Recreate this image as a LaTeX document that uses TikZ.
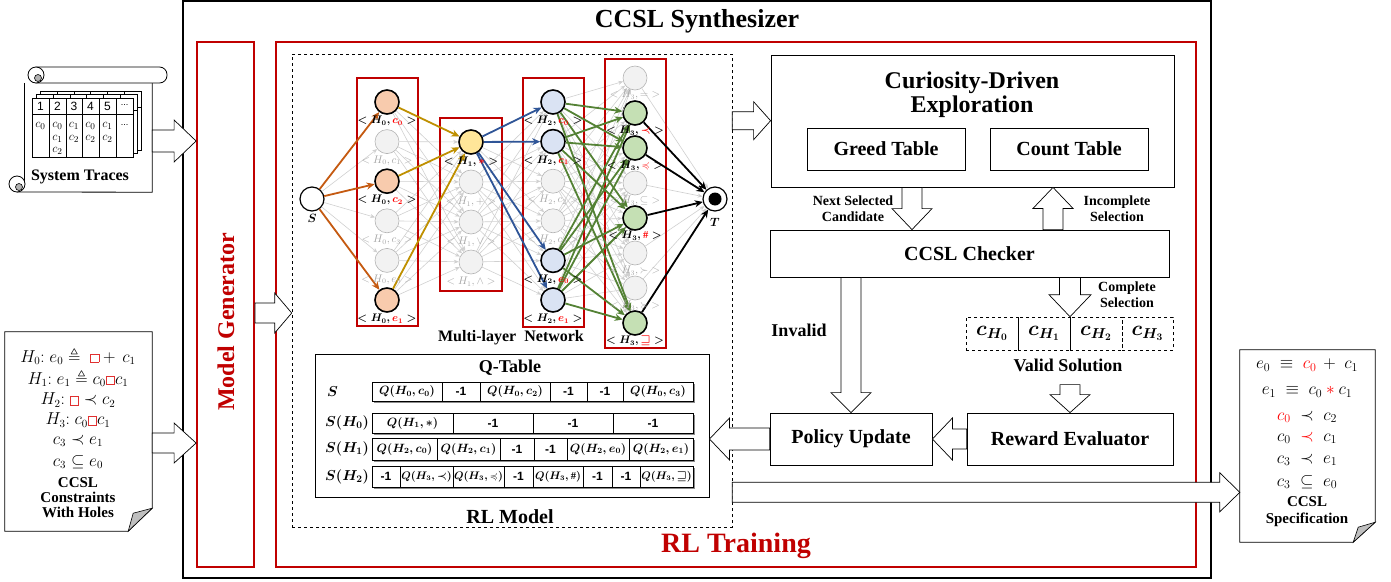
\documentclass[tikz,border=0pt]{standalone}
\usepackage{amsmath,amssymb}
\usepackage{fontspec}
\setmainfont{Liberation Serif}
\newfontfamily\sansfam{Liberation Sans}
\usetikzlibrary{calc,arrows.meta}

\definecolor{boxred}{HTML}{C00000}
\definecolor{labgray}{HTML}{A6A6A6}
\definecolor{edgegray}{HTML}{D0D0D0}
\definecolor{nodegray}{HTML}{F2F2F2}
\definecolor{ringgray}{HTML}{B4B4B4}
\definecolor{orangeE}{HTML}{C55A11}
\definecolor{goldE}{HTML}{BF9000}
\definecolor{blueE}{HTML}{2F5597}
\definecolor{greenE}{HTML}{548235}
\definecolor{orangeF}{HTML}{F8CBAD}
\definecolor{goldF}{HTML}{FFE699}
\definecolor{blueF}{HTML}{DAE3F3}
\definecolor{greenF}{HTML}{C5E0B4}
\definecolor{holered}{HTML}{E03030}

\newcommand{\fs}[2]{\fontsize{#1}{#2}\selectfont}
\newcommand{\mone}{{\sansfam\bfseries -1}}
\newcommand{\onlab}[2]{{\boldmath$<H_{#1},{\color{red}#2}>$}}
\newcommand{\offlab}[2]{\textcolor{labgray}{$<H_{#1},{#2}>$}}
% an empty slot of a constraint: a small red square
\newcommand{\hole}{\mathord{\mbox{\color{holered}\fboxsep=0pt\fboxrule=0.9pt\fbox{\rule{0pt}{7.5pt}\rule{7.5pt}{0pt}}}}}
\newcommand{\sm}[1]{{\fs{10.5}{12}#1}}

% hollow block arrow: #1 tail, #2 tip, #3 half shaft width, #4 half head width, #5 head length
\newcommand{\barr}[5]{%
  \coordinate (bh) at ($(#2)!#5!(#1)$);
  \draw[blockarrow] ($(#1)!#3!90:(#2)$) -- ($(bh)!#3!-90:(#1)$) -- ($(bh)!#4!-90:(#1)$)
    -- (#2) -- ($(bh)!#4!90:(#1)$) -- ($(bh)!#3!90:(#1)$) -- ($(#1)!#3!-90:(#2)$) -- cycle;}

% one row of the Q-table: #1 top, #2 bottom, #3 list of left/right/content
\newcommand{\qrow}[3]{%
  \fill[black!45] (373.5,#1+1.5) rectangle (694.5,#2+1.5);
  \foreach \a/\b/\cc in {#3}{%
    \draw[line width=0.6pt, fill=white] (\a,#1) rectangle (\b,#2);
    \node[qtxt] (q#1-\a) at ({(\a+\b)/2},{(#1+#2)/2}) {\cc};}}

\begin{document}
\begin{tikzpicture}[x=1pt,y=-1pt,
  every node/.style={inner sep=0pt},
  box/.style={draw=black, line width=0.8pt, fill=white},
  blockarrow/.style={draw=black, line width=0.7pt, fill=white, line join=miter},
  bigtxt/.style={font=\bfseries\fs{20}{22}},
  midtxt/.style={font=\bfseries\fs{18}{20}},
  smalltxt/.style={font=\bfseries\fs{14}{16}, align=center},
  nn/.style={circle, minimum size=24pt, draw=ringgray, fill=nodegray, line width=0.6pt},
  off/.style={},
  onA/.style={draw=black, line width=1.6pt, fill=orangeF},
  onB/.style={draw=black, line width=1.6pt, fill=goldF},
  onC/.style={draw=black, line width=1.6pt, fill=blueF},
  onD/.style={draw=black, line width=1.6pt, fill=greenF},
  lyr/.style={draw=boxred, line width=1.6pt},
  ge/.style={draw=edgegray, line width=0.6pt, -{Stealth[length=5pt,width=4pt]}},
  ae/.style={line width=1.8pt, -{Stealth[length=8pt,width=7pt]}},
  lab/.style={font=\fs{10.5}{11}},
  qtxt/.style={font=\fs{12}{13}\boldmath},
  rowlab/.style={font=\fs{14.4}{16}\boldmath, anchor=west},
  doc/.style={draw=black, line width=0.8pt, fill=white},
  mathln/.style={font=\fs{16}{18}},
  specln/.style={font=\fs{17}{19}},
]
\useasboundingbox (0,0) rectangle (1391,581);

% ---------- frames ----------
\node[draw=black, line width=1.4pt, minimum width=1028pt, minimum height=577pt] (syn) at (697,289.5) {};
\node[font=\bfseries\fs{26}{28}] (syntitle) at (697,21) {CCSL Synthesizer};
\node[draw=boxred, line width=1.8pt, minimum width=57pt, minimum height=525pt] (mg) at (225.5,304.5) {};
\node[font=\bfseries\fs{24}{26}, text=boxred, rotate=90] (mgtitle) at (226,322) {Model Generator};
\node[draw=boxred, line width=1.8pt, minimum width=920pt, minimum height=525pt] (rlt) at (736,304.5) {};
\node[font=\bfseries\fs{28}{30}, text=boxred] (rlttitle) at (736,546) {RL Training};
\node[draw=black, dashed, line width=0.6pt, minimum width=440pt, minimum height=473pt] (rlm) at (512,290.5) {};

% ---------- network nodes ----------
\node[circle, minimum size=24pt, draw=black, line width=1.2pt, fill=white] (s) at (312,199) {};
\node[circle, minimum size=24pt, draw=black, line width=1.2pt, fill=white] (t) at (715,199) {};
\fill (t) circle[radius=6.5];
\node[font=\fs{12}{13}\boldmath] (slab) at (312,218) {$S$};
\node[font=\fs{12}{13}\boldmath] (tlab) at (715,222) {$T$};

\foreach \i/\y/\st in {0/102/onA,1/141.6/off,2/181.2/onA,3/220.8/off,4/260.4/off,5/300/onA}
  \node[nn,\st] (a\i) at (387,\y) {};
\foreach \i/\y/\st in {0/142/onB,1/182/off,2/222/off,3/262/off}
  \node[nn,\st] (b\i) at (471,\y) {};
\foreach \i/\y/\st in {0/102/onC,1/141.6/onC,2/181.2/off,3/220.8/off,4/260.4/onC,5/300/onC}
  \node[nn,\st] (c\i) at (553,\y) {};
\foreach \i/\y/\st in {0/78/off,1/113/onD,2/148/onD,3/183/off,4/218/onD,5/253/off,6/288/off,7/323/onD}
  \node[nn,\st] (d\i) at (635,\y) {};

% grey full connections
\foreach \i in {0,...,5} \draw[ge] (s) -- (a\i);
\foreach \i in {0,...,5} \foreach \j in {0,...,3} \draw[ge] (a\i) -- (b\j);
\foreach \i in {0,...,3} \foreach \j in {0,...,5} \draw[ge] (b\i) -- (c\j);
\foreach \i in {0,...,5} \foreach \j in {0,...,7} \draw[ge] (c\i) -- (d\j);
\foreach \i in {0,...,7} \draw[ge] (d\i) -- (t);

% layer frames
\node[lyr, minimum width=61pt, minimum height=248pt] (lyr0) at (387.5,202) {};
\node[lyr, minimum width=62pt, minimum height=173pt] (lyr1) at (471,204.5) {};
\node[lyr, minimum width=61pt, minimum height=249pt] (lyr2) at (553.5,202.5) {};
\node[lyr, minimum width=61pt, minimum height=289pt] (lyr3) at (635.5,203.5) {};

% selected path
\foreach \i in {0,2,5} \draw[ae, orangeE] (s) -- (a\i);
\foreach \i in {0,2,5} \draw[ae, goldE] (a\i) -- (b0);
\foreach \j in {0,1,4,5} \draw[ae, blueE] (b0) -- (c\j);
\foreach \i in {0,1,4,5} \foreach \j in {1,2,4,7} \draw[ae, greenE] (c\i) -- (d\j);
\foreach \j in {1,2,4,7} \draw[ae, black] (d\j) -- (t);

% node labels
\node[lab] (la0) at (387,121) {\onlab{0}{c_0}};
\node[lab] (la1) at (387,160.6) {\offlab{0}{c_1}};
\node[lab] (la2) at (387,200.2) {\onlab{0}{c_2}};
\node[lab] (la3) at (387,239.8) {\offlab{0}{c_3}};
\node[lab] (la4) at (387,279.4) {\offlab{0}{e_0}};
\node[lab] (la5) at (387,319) {\onlab{0}{e_1}};
\node[lab] (lb0) at (471,162) {\onlab{1}{*}};
\node[lab] (lb1) at (471,202) {\offlab{1}{+}};
\node[lab] (lb2) at (471,242) {\offlab{1}{\vee}};
\node[lab] (lb3) at (471,282) {\offlab{1}{\wedge}};
\node[lab] (lc0) at (553,121) {\onlab{2}{c_0}};
\node[lab] (lc1) at (553,160.6) {\onlab{2}{c_1}};
\node[lab] (lc2) at (553,200.2) {\offlab{2}{c_2}};
\node[lab] (lc3) at (553,239.8) {\offlab{2}{c_3}};
\node[lab] (lc4) at (553,279.4) {\onlab{2}{e_0}};
\node[lab] (lc5) at (553,319) {\onlab{2}{e_1}};
\node[lab] (ld0) at (635,95) {\offlab{3}{=}};
\node[lab] (ld1) at (635,131) {\onlab{3}{\prec}};
\node[lab] (ld2) at (635,166) {\onlab{3}{\preccurlyeq}};
\node[lab] (ld3) at (635,201) {\offlab{3}{\subseteq}};
\node[lab] (ld4) at (635,236) {\onlab{3}{\#}};
\node[lab] (ld5) at (635,271) {\offlab{3}{\succ}};
\node[lab] (ld6) at (635,306) {\offlab{3}{\succcurlyeq}};
\node[lab] (ld7) at (635,341) {\onlab{3}{\sqsupseteq}};
\node[font=\bfseries\fs{16}{18}] (mln) at (511,338) {Multi-layer\ \ Network};

% ---------- Q-table ----------
\node[draw=black, line width=1pt, minimum width=394pt, minimum height=143pt] (qt) at (512,425.5) {};
\node[midtxt] (qtitle) at (510,368) {Q-Table};
\node[rowlab] (rs) at (327,391.5) {$S$};
\node[rowlab] (rs0) at (325,423) {$S(H_0)$};
\node[rowlab] (rs1) at (325,449) {$S(H_1)$};
\node[rowlab] (rs2) at (325,476.5) {$S(H_2)$};
\qrow{382}{401}{372/442/{$Q(H_0,c_0)$},442/480/{\mone},480/550/{$Q(H_0,c_2)$},550/587/{\mone},587/623/{\mone},623/693/{$Q(H_0,c_3)$}}
\qrow{413}{433}{372/453/{$Q(H_1,{*})$},453/533/{\mone},533/613/{\mone},613/693/{\mone}}
\qrow{438}{460}{372/437/{$Q(H_2,c_0)$},437/500/{$Q(H_2,c_1)$},500/534/{\mone},534/567/{\mone},567/629/{$Q(H_2,e_0)$},629/693/{$Q(H_2,e_1)$}}
\qrow{466}{487}{372/400/{\mone},400/453/{\sm{$Q(H_3,{\prec})$}},453/504/{\sm{$Q(H_3,{\preccurlyeq})$}},504/533/{\mone},533/583/{\sm{$Q(H_3,\#)$}},583/612/{\mone},612/640/{\mone},640/693/{\sm{$Q(H_3,{\sqsupseteq})$}}}
\node[bigtxt] (rlmtitle) at (510,517) {RL Model};

% ---------- right-hand blocks ----------
\node[box, minimum width=403pt, minimum height=132pt] (cur) at (972.5,121) {};
\node[font=\bfseries\fs{24}{24}, align=center] (curtitle) at (972,95) {Curiosity-Driven\\Exploration};
\node[box, minimum width=158pt, minimum height=42pt, bigtxt] (greed) at (886,149) {Greed Table};
\node[box, minimum width=158pt, minimum height=42pt, bigtxt] (count) at (1069,149) {Count Table};
\node[box, minimum width=399pt, minimum height=47pt, bigtxt] (chk) at (969.5,253.5) {CCSL Checker};
\node[draw=black, dashed, line width=0.6pt, minimum width=52pt, minimum height=33pt, font=\fs{20}{22}\boldmath] (vs0) at (992,333.5) {$c_{H_0}$};
\node[draw=black, dashed, line width=0.6pt, minimum width=52pt, minimum height=33pt, font=\fs{20}{22}\boldmath] (vs1) at (1044,333.5) {$c_{H_1}$};
\node[draw=black, dashed, line width=0.6pt, minimum width=52pt, minimum height=33pt, font=\fs{20}{22}\boldmath] (vs2) at (1096,333.5) {$c_{H_2}$};
\node[draw=black, dashed, line width=0.6pt, minimum width=51pt, minimum height=33pt, font=\fs{20}{22}\boldmath] (vs3) at (1147.5,333.5) {$c_{H_3}$};
\node[midtxt] (vstitle) at (1068,365) {Valid Solution};
\node[box, minimum width=162pt, minimum height=52pt, bigtxt] (pol) at (851,439) {Policy Update};
\node[box, minimum width=206pt, minimum height=52pt, bigtxt] (rew) at (1070,439) {Reward Evaluator};
\node[midtxt] (invalid) at (799,330) {Invalid};
\node[smalltxt] (nsc) at (853,209) {Next Selected\\Candidate};
\node[smalltxt] (inc) at (1117,209) {Incomplete\\Selection};
\node[smalltxt] (cmp) at (1127,295) {Complete\\Selection};

% ---------- documents ----------
\node[minimum width=127pt, minimum height=109pt] (traces) at (88.5,137.5) {};
\fill[white] (traces.north west) rectangle (traces.south east);
\draw[line width=0.8pt] (traces.north west) -- ($(traces.south west)+(0,-8)$);
\draw[line width=0.8pt] (traces.north east) -- (traces.south east) -- (17,192);
\draw[fill=white, line width=0.8pt] (17,184) circle[radius=8];
\draw[fill=black!30, line width=0.6pt] (19,187) circle[radius=3.5];
\draw[fill=white, line width=0.8pt, rounded corners=7.5pt] (30,67) rectangle (167,83);
\draw[fill=white, line width=0.8pt] (36,75) circle[radius=8];
\draw[fill=black!30, line width=0.6pt] (38,78) circle[radius=3.5];
\foreach \k in {2,1,0}{
  \begin{scope}[shift={(4*\k,-3.5*\k)}]
    \draw[fill=white, line width=0.6pt] (32,98) rectangle (133,157);
    \draw[line width=0.6pt] (32,114) -- (133,114);
    \foreach \x in {49,66,82,99,116} \draw[line width=0.6pt] (\x,98) -- (\x,157);
  \end{scope}}
\foreach \x/\n in {40.5/1,57.5/2,74/3,90.5/4,107.5/5}
  \node[font=\sansfam\fs{12}{13}] (th\n) at (\x,106) {\n};
\node[font=\sansfam\fs{9}{10}] (th6) at (124.5,105) {...};
\foreach \x/\y/\m [count=\q] in {40.5/126/c_0, 57.5/126/c_0, 57.5/139/c_1, 57.5/151/c_2,
    74/126/c_1, 74/139/c_2, 90.5/126/c_0, 90.5/139/c_2, 107.5/126/c_1, 107.5/139/c_2}
  \node[font=\fs{13}{14}] (tc\q) at (\x,\y) {$\m$};
\node[font=\sansfam\fs{9}{10}] (tdots) at (124.5,125) {...};
\node[font=\bfseries\fs{16}{18}] (trtitle) at (80,177) {System Traces};

\node[minimum width=147pt, minimum height=199pt] (cons) at (78.5,431.5) {};
\draw[doc] (cons.north west) -- (cons.north east) -- ($(cons.south east)+(0,-23)$)
  -- ($(cons.south east)+(-24,0)$) -- (cons.south west) -- cycle;
\draw[fill=black!25, line width=0.6pt] ($(cons.south east)+(-24,0)$) -- ($(cons.south east)+(0,-23)$)
  -- ($(cons.south east)+(-19,-18)$) -- cycle;
\node[mathln] (ch0) at (78,356) {$H_0{:}\; e_0 \triangleq \;\hole + \,c_1$};
\node[mathln] (ch1) at (78,378) {$H_1{:}\; e_1 \triangleq c_0\hole c_1$};
\node[mathln] (ch2) at (78,400) {$H_2{:}\; \hole \prec c_2$};
\node[mathln] (ch3) at (78,420) {$H_3{:}\; c_0\hole c_1$};
\node[mathln] (ch4) at (78,441) {$c_3 \prec e_1$};
\node[mathln] (ch5) at (78,462) {$c_3 \subseteq e_0$};
\node[font=\bfseries\fs{15}{15}, align=center] (constitle) at (78,498) {CCSL\\Constraints\\With Holes};

\node[minimum width=135pt, minimum height=192pt] (spec) at (1307.5,446) {};
\draw[doc] (spec.north west) -- (spec.north east) -- ($(spec.south east)+(0,-20)$)
  -- ($(spec.south east)+(-22,0)$) -- (spec.south west) -- cycle;
\draw[fill=black!25, line width=0.6pt] ($(spec.south east)+(-22,0)$) -- ($(spec.south east)+(0,-20)$)
  -- ($(spec.south east)+(-17,-15)$) -- cycle;
\node[specln] (sp0) at (1307,365) {$e_0 \;\equiv\; {\color{red}c_0} \,+\; c_1$};
\node[specln] (sp1) at (1307,392) {$e_1 \;\equiv\; c_0 \mathbin{\color{red}*} c_1$};
\node[specln] (sp2) at (1307,417) {${\color{red}c_0} \;\prec\; c_2$};
\node[specln] (sp3) at (1307,438) {$c_0 \;\mathrel{\color{red}\prec}\; c_1$};
\node[specln] (sp4) at (1307,460) {$c_3 \;\prec\; e_1$};
\node[specln] (sp5) at (1307,482) {$c_3 \;\subseteq\; e_0$};
\node[font=\bfseries\fs{15}{17}, align=center] (spectitle) at (1307,511.5) {CCSL\\Specification};

% ---------- block arrows ----------
\coordinate (a1t) at ($(traces.east)+(0,3.5)$);
\coordinate (a1h) at (a1t -| mg.west);
\barr{a1t}{a1h}{11pt}{21pt}{22pt}
\coordinate (a2t) at ($(cons.east)+(0,11.5)$);
\coordinate (a2h) at (a2t -| mg.west);
\barr{a2t}{a2h}{10pt}{20pt}{22pt}
\coordinate (a3t) at ($(mg.east)+(0,8.5)$);
\coordinate (a3h) at (a3t -| rlm.west);
\barr{a3t}{a3h}{10pt}{20pt}{17pt}
\coordinate (a4t) at ($(rlm.north east)+(0,67)$);
\coordinate (a4h) at (a4t -| cur.west);
\barr{a4t}{a4h}{9pt}{19pt}{17pt}
\coordinate (a5t) at ($(cur.south)+(-60.5,0)$);
\coordinate (a5h) at (a5t |- chk.north);
\barr{a5t}{a5h}{10pt}{20pt}{21pt}
\coordinate (a6t) at ($(chk.north)+(83.5,0)$);
\coordinate (a6h) at (a6t |- cur.south);
\barr{a6t}{a6h}{10pt}{20pt}{21pt}
\coordinate (a7t) at ($(chk.south)+(100.5,0)$);
\coordinate (a7h) at (a7t |- vs1.north);
\barr{a7t}{a7h}{10.5pt}{21pt}{22pt}
\coordinate (a8t) at ($(rew.north)+(0,-28)$);
\barr{a8t}{rew.north}{10pt}{20pt}{18pt}
\coordinate (a9t) at (chk.south -| pol.north);
\barr{a9t}{pol.north}{10pt}{20pt}{20pt}
\barr{rew.west}{pol.east}{10pt}{21pt}{20pt}
\coordinate (a11h) at (pol.west -| qt.east);
\barr{pol.west}{a11h}{11pt}{21pt}{20pt}
\coordinate (a12t) at ($(rlm.south east)+(0,-35)$);
\coordinate (a12h) at (a12t -| spec.west);
\barr{a12t}{a12h}{10pt}{19.5pt}{20pt}
\end{tikzpicture}
\end{document}
